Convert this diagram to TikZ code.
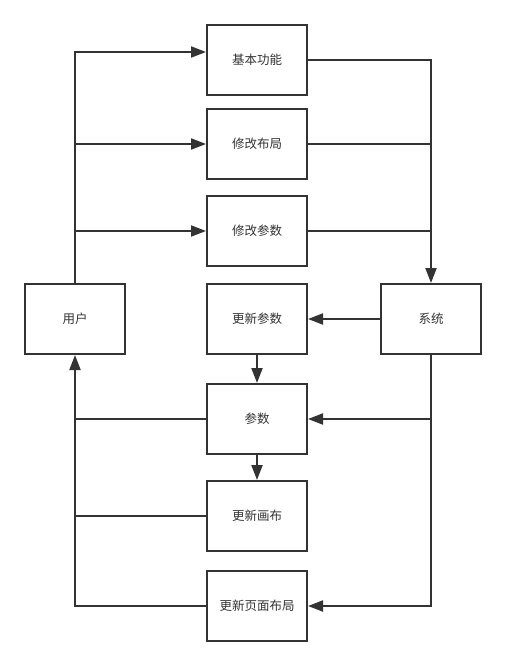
\documentclass[tikz,border=0pt]{standalone}
\usepackage{fontspec}
\setmainfont{Noto Sans CJK SC}
\usetikzlibrary{arrows.meta,calc}
\definecolor{ink}{HTML}{333333}
\tikzset{
  box/.style={draw=ink, line width=2pt, minimum width=100pt, minimum height=70pt, inner sep=0pt, text=ink, font=\fontsize{12.5}{14}\selectfont},
  conn/.style={draw=ink, line width=2pt},
  arr/.style={conn, -{Triangle[length=15pt,width=11pt]}},
}
\begin{document}
\begin{tikzpicture}[x=1pt,y=-1pt]
\useasboundingbox (0,0) rectangle (506,666);
\node[box] (basic) at (257,60) {基本功能};
\node[box] (layout) at (257,144) {修改布局};
\node[box] (param) at (257,231) {修改参数};
\node[box] (user) at (75,319) {用户};
\node[box] (upd) at (257,319) {更新参数};
\node[box] (sys) at (431,319) {系统};
\node[box] (p) at (257,419) {参数};
\node[box] (canvas) at (257,516) {更新画布};
\node[box] (page) at (257,606) {更新页面布局};
\coordinate (bin) at ($(basic.west)+(0,-8)$);
% user to top boxes
\draw[arr] (user.north) |- (bin);
\draw[arr] (75,144) -- (layout.west);
\draw[arr] (75,231) -- (param.west);
% top boxes to system
\draw[arr] (basic.east) -| (sys.north);
\draw[conn] (layout.east) -- (431,144);
\draw[conn] (param.east) -- (431,231);
% system outputs
\draw[arr] (sys.west) -- (upd.east);
\draw[arr] (sys.south) |- (page.east);
\draw[arr] (431,419) -- (p.east);
% vertical chain
\draw[arr] (upd.south) -- (p.north);
\draw[arr] (p.south) -- (canvas.north);
% back to user
\draw[arr] (page.west) -| (user.south);
\draw[conn] (p.west) -- (75,419);
\draw[conn] (canvas.west) -- (75,516);
\end{tikzpicture}
\end{document}
